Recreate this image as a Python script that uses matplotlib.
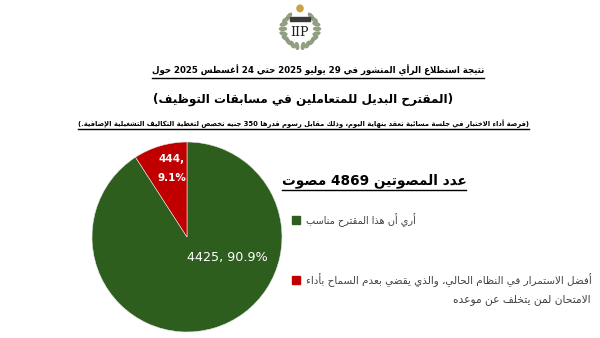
import re
import numpy as np
import matplotlib
matplotlib.use("Agg")
import matplotlib.pyplot as plt
from matplotlib.lines import Line2D
from matplotlib.patches import Ellipse, Rectangle

# ---------------- data ----------------
categories = [
    "أري أن هذا المقترح مناسب",
    "أفضل الاستمرار في النظام الحالي، والذي يقضي بعدم السماح بأداء الامتحان لمن يتخلف عن موعده",
]
legend_lines = [
    ["أري أن هذا المقترح مناسب"],
    ["أفضل الاستمرار في النظام الحالي، والذي يقضي بعدم السماح بأداء",
     "الامتحان لمن يتخلف عن موعده"],
]
values = [4425, 444]
colors = ["#2E5E1E", "#C00000"]
title1 = "نتيجة استطلاع الرأي المنشور في 29 يوليو 2025 حتي 24 أغسطس 2025 حول"
title2 = "(المقترح البديل للمتعاملين في مسابقات التوظيف)"
title3 = "(فرصة أداء الاختبار في جلسة مسائية تُعقد بنهاية اليوم، وذلك مقابل رسوم قدرها 350 جنيه تُخصص لتغطية التكاليف التشغيلية الإضافية.)"
voters_title = "عدد المصوتين 4869 مصوت"

# ---------------- minimal Arabic shaping ----------------
TWO = {'آ': 0xFE81, 'أ': 0xFE83, 'ؤ': 0xFE85, 'إ': 0xFE87, 'ا': 0xFE8D, 'ة': 0xFE93,
       'د': 0xFEA9, 'ذ': 0xFEAB, 'ر': 0xFEAD, 'ز': 0xFEAF, 'و': 0xFEED, 'ى': 0xFEEF}
FOUR = {'ئ': 0xFE89, 'ب': 0xFE8F, 'ت': 0xFE95, 'ث': 0xFE99, 'ج': 0xFE9D, 'ح': 0xFEA1,
        'خ': 0xFEA5, 'س': 0xFEB1, 'ش': 0xFEB5, 'ص': 0xFEB9, 'ض': 0xFEBD, 'ط': 0xFEC1,
        'ظ': 0xFEC5, 'ع': 0xFEC9, 'غ': 0xFECD, 'ف': 0xFED1, 'ق': 0xFED5, 'ك': 0xFED9,
        'ل': 0xFEDD, 'م': 0xFEE1, 'ن': 0xFEE5, 'ه': 0xFEE9, 'ي': 0xFEF1}
LAMALEF = {'آ': 0xFEF5, 'أ': 0xFEF7, 'إ': 0xFEF9, 'ا': 0xFEFB}


def shape(s):
    s = re.sub('[\u064B-\u065F]', '', s)
    items = []
    i = 0
    while i < len(s):
        c = s[i]
        if c == 'ل' and i + 1 < len(s) and s[i + 1] in LAMALEF:
            items.append(('R', LAMALEF[s[i + 1]], None))
            i += 2
            continue
        if c in FOUR:
            items.append(('D', FOUR[c], None))
        elif c in TWO:
            items.append(('R', TWO[c], None))
        elif c == 'ء':
            items.append(('N', 0xFE80, None))
        else:
            items.append((None, None, c))
        i += 1
    out = []
    for j, (k, b, c) in enumerate(items):
        if k is None:
            out.append(c)
            continue
        prev = items[j - 1][0] if j > 0 else None
        nxt = items[j + 1][0] if j + 1 < len(items) else None
        cp = prev == 'D'
        cn = k == 'D' and nxt in ('D', 'R')
        if k == 'N':
            out.append(chr(b))
        elif k == 'R':
            out.append(chr(b + 1) if cp else chr(b))
        else:
            off = 3 if (cp and cn) else 1 if cp else 2 if cn else 0
            out.append(chr(b + off))
    return ''.join(out)


MIRROR = {'(': ')', ')': '('}


def ar(s):
    toks = re.findall(r'\d+|.', shape(s))
    return ''.join(MIRROR.get(t, t) for t in reversed(toks))


# ---------------- figure ----------------
W, H = 600, 338
fig = plt.figure(figsize=(6, 3.38), dpi=100)
fig.patch.set_facecolor("white")
renderer = fig.canvas.get_renderer()
FONT = ["DejaVu Sans"]


def fx(px):
    return px / W


def fy(py):
    return 1 - py / H


def put(text, x, y, target_w=None, size=10, weight="normal", ha="center",
        color="black", underline=False, ul_off=0):
    t = fig.text(fx(x), fy(y), text, ha=ha, va="center", fontsize=size,
                 fontweight=weight, color=color, family=FONT)
    if target_w:
        bb = t.get_window_extent(renderer)
        t.set_fontsize(size * target_w / bb.width)
    if underline:
        bb = t.get_window_extent(renderer)
        yb = bb.y0 - ul_off
        fig.add_artist(Line2D([bb.x0 / W, bb.x1 / W], [yb / H, yb / H],
                              transform=fig.transFigure, color=color, lw=1.0))
    return t


# logo
lax = fig.add_axes([fx(278), fy(50), 44 / W, 46 / H])
lax.set_xlim(-1, 1)
lax.set_ylim(-1.05, 1.05)
lax.set_aspect("equal")
lax.axis("off")
for side in (-1, 1):
    for a in np.linspace(-80, 50, 9):
        r = np.deg2rad(a)
        cx, cy = side * 0.78 * np.cos(r), 0.78 * np.sin(r) - 0.1
        lax.add_patch(Ellipse((cx, cy), 0.32, 0.14, angle=side * (a + 90) * -1 + 90,
                              color="#8A9A7A", alpha=0.9))
lax.add_patch(Ellipse((0, 0.85), 0.28, 0.3, color="#C9A24A"))
lax.add_patch(Rectangle((-0.45, 0.28), 0.9, 0.16, color="#3A3A3A"))
lax.text(0, -0.25, "IIP", ha="center", va="center", fontsize=9,
         family="DejaVu Serif", color="#222222")

# titles
put(ar(title1), 318, 70, target_w=335, size=12, weight="bold", underline=True, ul_off=2)
put(ar(title2), 303, 99, target_w=300, size=16, weight="bold")
put(ar(title3), 303, 124, target_w=448, size=6, weight="bold", underline=True, ul_off=1)

# pie
R = 95
pcx, pcy = 187, 237
ax = fig.add_axes([fx(pcx - R), fy(pcy + R), 2 * R / W, 2 * R / H])
ax.pie(values, colors=colors, startangle=90, counterclock=False,
       wedgeprops=dict(edgecolor="#E8E8E8", linewidth=0.4))
ax.set_xlim(-1, 1)
ax.set_ylim(-1, 1)
ax.set_aspect("equal")
total = sum(values)
pcts = [v / total * 100 for v in values]
ax.text(0.43, -0.22, f"{values[0]}, {pcts[0]:.1f}%", ha="center", va="center",
        color="white", fontsize=9.2, family=FONT)
ax.text(-0.16, 0.72, f"{values[1]},\n{pcts[1]:.1f}%", ha="center", va="center",
        color="white", fontsize=7.5, fontweight="bold", family=FONT, linespacing=2.1)

# legend
put(ar(voters_title), 374, 181, target_w=185, size=12, weight="bold",
    underline=True, ul_off=2)
sq = 8
for (lines, c, y) in zip(legend_lines, colors, [220, 280]):
    fig.add_artist(Rectangle((fx(292), fy(y + sq / 2)), sq / W, sq / H,
                             transform=fig.transFigure, color=c))
    put(ar(lines[0]), 306, y, size=8.5, ha="left", color="#404040",
        target_w=110 if len(lines) == 1 else 286)
    if len(lines) > 1:
        put(ar(lines[1]), 591, y + 20, size=8.5, ha="right", color="#404040",
            target_w=138)

fig.savefig("out.png", dpi=100, facecolor="white")
